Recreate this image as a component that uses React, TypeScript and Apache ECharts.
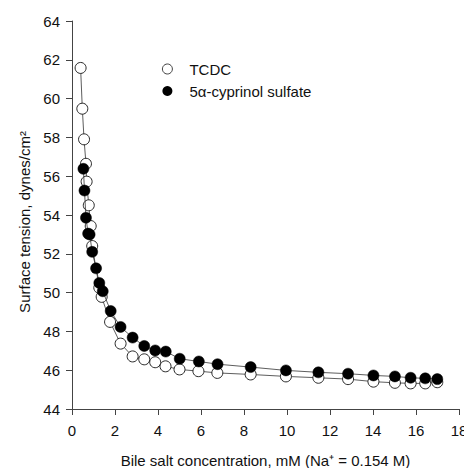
import React, { useEffect, useRef } from "react";
import * as echarts from "echarts";

const xTicks = [0, 2, 4, 6, 8, 10, 12, 14, 16, 18];
const yTicks = [44, 46, 48, 50, 52, 54, 56, 58, 60, 62, 64];

const tcdcX = [0.40, 0.48, 0.56, 0.65, 0.68, 0.78, 0.87, 0.94, 1.27, 1.38, 1.77, 2.26, 2.82, 3.36, 3.87, 4.35, 5.0, 5.88, 6.76, 8.31, 9.95, 11.46, 12.84, 14.02, 15.02, 15.75, 16.43, 16.99];
const tcdcY = [61.58, 59.48, 57.9, 56.64, 55.72, 54.5, 53.43, 52.4, 50.25, 49.78, 48.49, 47.37, 46.71, 46.56, 46.41, 46.2, 46.04, 45.95, 45.86, 45.78, 45.68, 45.61, 45.54, 45.41, 45.35, 45.32, 45.32, 45.38];

const cypX = [0.53, 0.58, 0.65, 0.75, 0.82, 0.94, 1.12, 1.27, 1.43, 1.80, 2.26, 2.82, 3.36, 3.87, 4.36, 5.01, 5.9, 6.77, 8.31, 9.95, 11.46, 12.84, 14.02, 15.02, 15.75, 16.43, 16.99];
const cypY = [56.38, 55.26, 53.86, 53.04, 53.0, 52.1, 51.25, 50.5, 50.07, 49.05, 48.23, 47.68, 47.25, 47.02, 46.96, 46.59, 46.45, 46.31, 46.16, 45.99, 45.89, 45.82, 45.73, 45.68, 45.61, 45.58, 45.54];

const seriesNames = ["TCDC", "5α-cyprinol sulfate"];

export default function App() {
  const ref = useRef<HTMLDivElement>(null);
  useEffect(() => {
    if (!ref.current) return;
    const chart = echarts.init(ref.current, null, { renderer: "svg" });
    const font = "Liberation Sans, Arial, sans-serif";
    chart.setOption({
      animation: false,
      backgroundColor: "#fff",
      grid: { left: 72, top: 21, right: 5, bottom: 59, containLabel: false, outerBoundsMode: "none" },
      legend: {
        orient: "vertical",
        left: 157,
        top: 56,
        itemWidth: 10,
        itemHeight: 10,
        itemGap: 6,
        icon: "circle",
        textStyle: { fontFamily: font, fontSize: 15, lineHeight: 16, color: "#111", padding: [0, 0, 0, 12] },
        data: [
          { name: seriesNames[0], itemStyle: { color: "#fff", borderColor: "#111", borderWidth: 0.8 } },
          { name: seriesNames[1], itemStyle: { color: "#000", borderColor: "#000", borderWidth: 0 } },
        ],
      },
      xAxis: {
        type: "value",
        min: 0,
        max: 18,
        interval: 2,
        name: "Bile salt concentration, mM (Na⁺ = 0.154 M)",
        nameLocation: "middle",
        nameGap: 44,
        nameTextStyle: { fontFamily: font, fontSize: 15, lineHeight: 15, color: "#111" },
        axisLine: { lineStyle: { color: "#444", width: 1 } },
        axisTick: { show: true, length: 6, lineStyle: { color: "#444" } },
        axisLabel: { fontFamily: font, fontSize: 15, color: "#111", margin: 14, formatter: (v: number) => (xTicks.includes(v) ? String(v) : "") },
        splitLine: { show: false },
      },
      yAxis: {
        type: "value",
        min: 44,
        max: 64,
        interval: 2,
        name: "Surface tension, dynes/cm²",
        nameLocation: "middle",
        nameGap: 39,
        nameTextStyle: { fontFamily: font, fontSize: 15, color: "#111", padding: [0, 14, 0, 0] },
        axisLine: { show: true, lineStyle: { color: "#444", width: 1 } },
        axisTick: { show: true, length: 6, lineStyle: { color: "#444" } },
        axisLabel: { fontFamily: font, fontSize: 15, color: "#111", margin: 12, formatter: (v: number) => (yTicks.includes(v) ? String(v) : "") },
        splitLine: { show: false },
      },
      series: [
        {
          name: seriesNames[0],
          type: "line",
          data: tcdcX.map((x, i) => [x, tcdcY[i]]),
          symbol: "circle",
          symbolSize: 11,
          z: 3,
          lineStyle: { color: "#333", width: 0.8 },
          itemStyle: { color: "#fff", borderColor: "#111", borderWidth: 0.9 },
        },
        {
          name: seriesNames[1],
          type: "line",
          data: cypX.map((x, i) => [x, cypY[i]]),
          symbol: "circle",
          symbolSize: 11,
          z: 4,
          lineStyle: { color: "#333", width: 0.8 },
          itemStyle: { color: "#000", borderColor: "#000", borderWidth: 0.5 },
        },
      ],
    });
    return () => chart.dispose();
  }, []);
  return <div ref={ref} style={{ width: 464, height: 468, position: "absolute", left: 0, top: 0 }} />;
}
